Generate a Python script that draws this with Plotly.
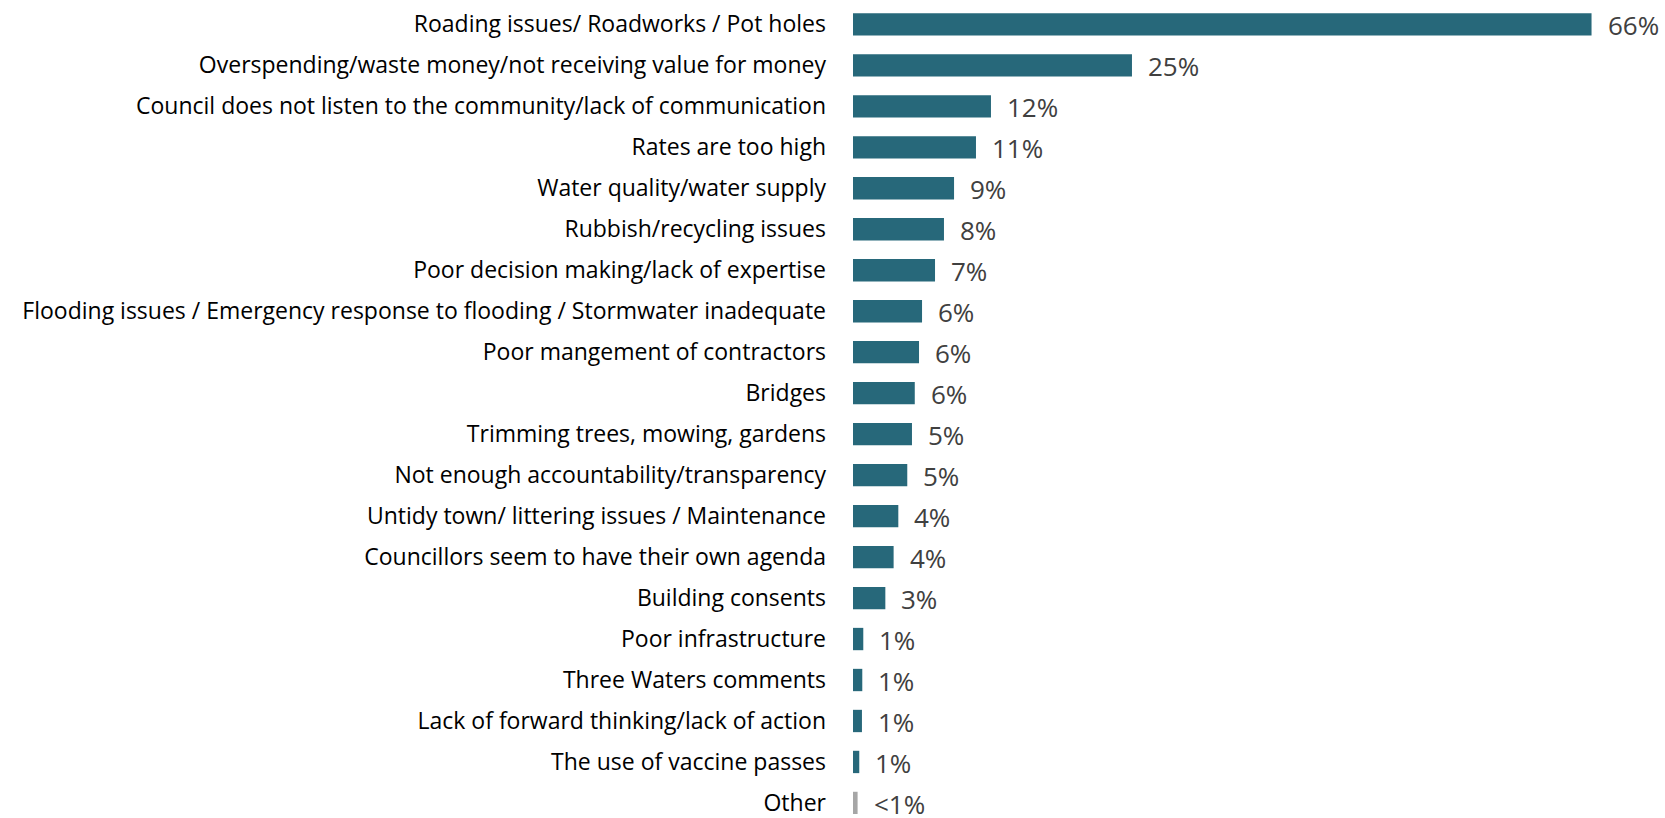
import plotly.graph_objects as go

# Share of mentions for each area of dissatisfaction (%)
categories = [
    "Roading issues/ Roadworks / Pot holes",
    "Overspending/waste money/not receiving value for money",
    "Council does not listen to the community/lack of communication",
    "Rates are too high",
    "Water quality/water supply",
    "Rubbish/recycling issues",
    "Poor decision making/lack of expertise",
    "Flooding issues / Emergency response to flooding / Stormwater inadequate",
    "Poor mangement of contractors",
    "Bridges",
    "Trimming trees, mowing, gardens",
    "Not enough accountability/transparency",
    "Untidy town/ littering issues / Maintenance",
    "Councillors seem to have their own agenda",
    "Building consents",
    "Poor infrastructure",
    "Three Waters comments",
    "Lack of forward thinking/lack of action",
    "The use of vaccine passes",
    "Other",
]
values = [66.0, 24.93, 12.33, 10.99, 9.03, 8.13, 7.33, 6.17, 5.90, 5.52,
          5.27, 4.85, 4.05, 3.63, 2.89, 0.92, 0.83, 0.80, 0.56, 0.41]

TEAL = "#27687A"
GREY = "#A6A6A6"
colors = [GREY if c == "Other" else TEAL for c in categories]


def pct_label(v):
    return "<1%" if v < 0.5 else f"{round(v)}%"


labels = [pct_label(v) for v in values]

fig = go.Figure(
    go.Bar(
        x=values,
        y=categories,
        orientation="h",
        marker=dict(color=colors, line=dict(width=0)),
        width=0.545,
        hoverinfo="skip",
    )
)

for cat, v, lab in zip(categories, values, labels):
    fig.add_annotation(
        x=v, y=cat, text=lab, showarrow=False,
        xanchor="left", yanchor="middle", xshift=14, yshift=-1,
        font=dict(family="Open Sans", size=26, color="#404040"),
    )

px_per_pct = 11.19
plot_w = 1665 - 853
fig.update_layout(
    width=1665,
    height=818,
    margin=dict(l=853, r=0, t=0, b=0),
    plot_bgcolor="white",
    paper_bgcolor="white",
    showlegend=False,
    xaxis=dict(
        range=[0, plot_w / px_per_pct],
        visible=False,
        fixedrange=True,
    ),
    yaxis=dict(
        type="category",
        categoryorder="array",
        categoryarray=categories,
        range=[19.27, -0.595],
        showgrid=False,
        showline=False,
        zeroline=False,
        ticks="",
        ticklabelstandoff=26,
        tickfont=dict(family="Open Sans", size=23, color="#000000"),
        fixedrange=True,
    ),
)

fig.write_html("out.html")
